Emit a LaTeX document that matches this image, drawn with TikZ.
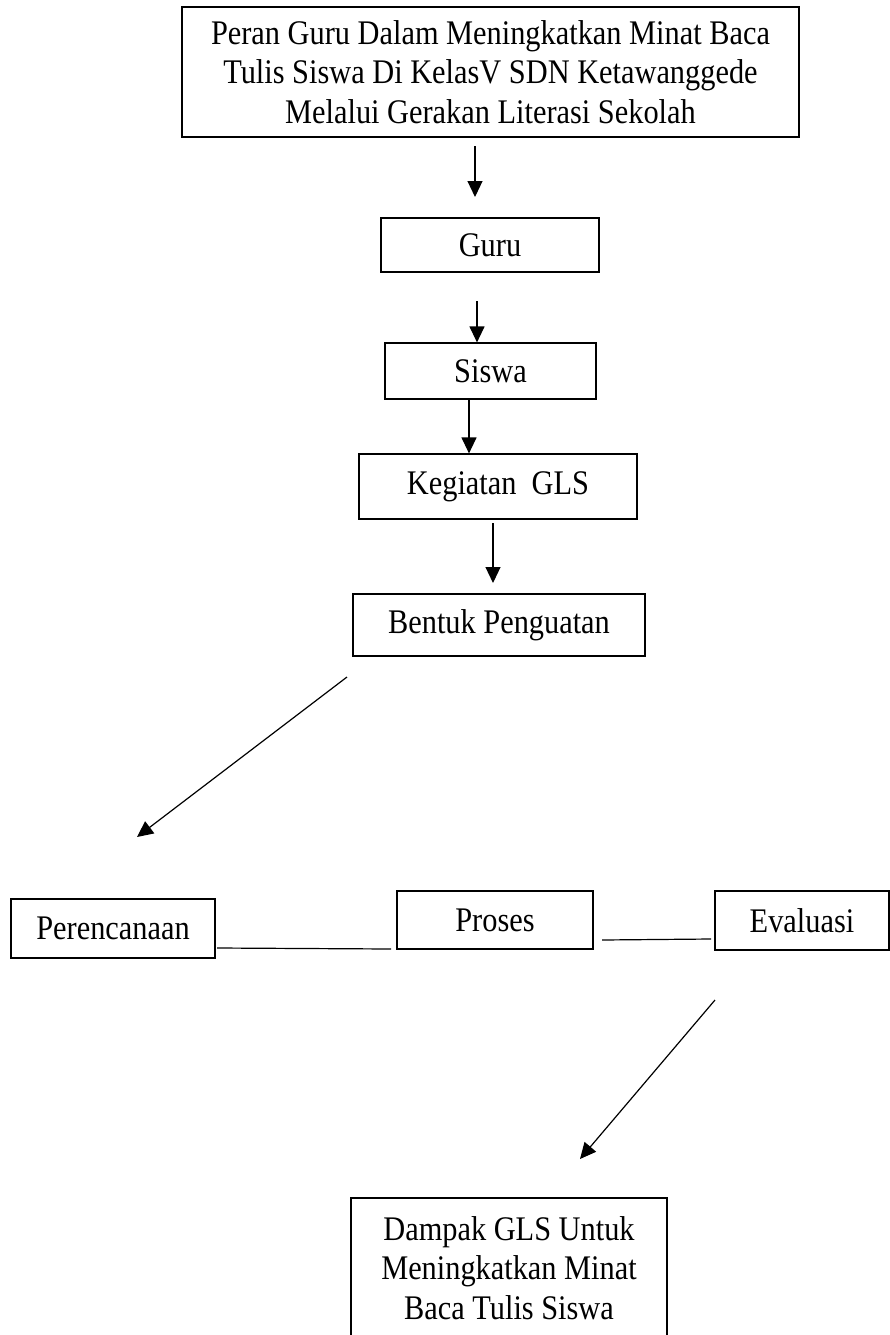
\documentclass[tikz,border=0pt]{standalone}
\usepackage{fontspec}
\setmainfont{Liberation Serif}[FakeStretch=0.88]
\usetikzlibrary{arrows.meta}
\tikzset{
  box/.style={draw, line width=1.2pt, inner sep=0pt, align=center,
    font=\fontsize{34.5}{39.5}\selectfont},
  arr/.style={line width=1.2pt, -{Triangle[length=16pt,width=15pt]}},
  link/.style={line width=1.2pt}
}
\begin{document}
\begin{tikzpicture}[x=1pt,y=-1pt]
\useasboundingbox (0,0) rectangle (890,1335);
\node[box, minimum width=617pt, minimum height=130pt] (top) at (490.5,72)
  {Peran Guru Dalam Meningkatkan Minat Baca\\Tulis Siswa Di KelasV SDN Ketawanggede\\Melalui Gerakan Literasi Sekolah};
\node[box, minimum width=218pt, minimum height=54pt] (guru) at (490,245) {Guru};
\node[box, minimum width=211pt, minimum height=56pt] (siswa) at (490.5,371) {Siswa};
\node[box, minimum width=278pt, minimum height=65pt] (keg) at (498,486.5) {Kegiatan \ GLS};
\node[box, minimum width=292pt, minimum height=62pt] (bentuk) at (499,625) {Bentuk Penguatan};
\node[box, minimum width=204pt, minimum height=59pt] (peren) at (113,928.5) {Perencanaan};
\node[box, minimum width=196pt, minimum height=58pt] (proses) at (495,920) {Proses};
\node[box, minimum width=174pt, minimum height=59pt] (eval) at (802,920.5) {Evaluasi};
\node[box, minimum width=316pt, minimum height=140pt] (dampak) at (509,1268)
  {Dampak GLS Untuk\\Meningkatkan Minat\\Baca Tulis Siswa};
% free ends of connectors
\coordinate (a1s) at (475,146);
\coordinate (a1e) at (475,197);
\coordinate (a2s) at (477,301);
\coordinate (a4s) at (493,523);
\coordinate (a4e) at (493,583);
\coordinate (a5s) at (347,677);
\coordinate (a5e) at (137,837);
\coordinate (l1s) at (217,948);
\coordinate (l1e) at (391,949);
\coordinate (l2s) at (602,940);
\coordinate (l2e) at (711,939);
\coordinate (a6s) at (715,1000);
\coordinate (a6e) at (580,1159);
\draw[arr] (a1s) -- (a1e);
\draw[arr] (a2s) -- (a2s |- siswa.north);
\draw[arr] (siswa.south -| 469,0) -- (keg.north -| 469,0);
\draw[arr] (a4s) -- (a4e);
\draw[arr] (a5s) -- (a5e);
\draw[link] (l1s) -- (l1e);
\draw[link] (l2s) -- (l2e);
\draw[arr] (a6s) -- (a6e);
\end{tikzpicture}
\end{document}
